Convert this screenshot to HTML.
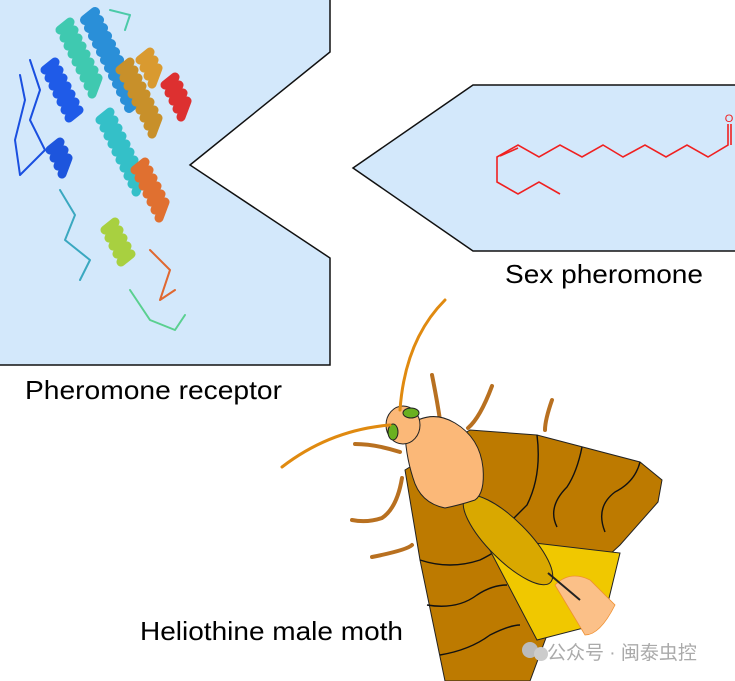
<!DOCTYPE html>
<html><head><style>
html,body{margin:0;padding:0;background:#fff;}
svg{display:block;}
text{font-family:"Liberation Sans",sans-serif;}
</style></head><body>
<svg width="735" height="681" viewBox="0 0 735 681" xmlns="http://www.w3.org/2000/svg">
<!-- left box -->
<polygon points="0,0 330,0 330,52 190,165 330,258 330,365 0,365" fill="#d3e8fb"/>
<polyline points="330,0 330,52 190,165 330,258 330,365 0,365" fill="none" stroke="#111" stroke-width="1.5"/>
<!-- protein -->
<g fill="none" stroke-linecap="round" stroke-linejoin="round">
<path d="M30,60 L40,90 L30,120 L45,150 L20,175 L15,140 L25,100 L20,75" stroke="#1a4fe0" stroke-width="2"/>
<path d="M45,70 l10,-8 l-6,16 l10,-8 l-6,16 l10,-8 l-6,16 l10,-8 l-6,16 l10,-8 l-6,16 l10,-8 l-6,16 l10,-8" stroke="#1f5be8" stroke-width="9"/>
<path d="M50,150 l10,-8 l-6,16 l10,-8 l-6,16 l10,-8 l-6,16" stroke="#1d55dd" stroke-width="9"/>
<path d="M60,30 l10,-8 l-6,16 l10,-8 l-6,16 l10,-8 l-6,16 l10,-8 l-6,16 l10,-8 l-6,16 l10,-8 l-6,16 l10,-8 l-6,16 l10,-8 l-6,16" stroke="#3fc9b0" stroke-width="9"/>
<path d="M85,20 l10,-8 l-6,16 l10,-8 l-6,16 l10,-8 l-6,16 l10,-8 l-6,16 l10,-8 l-6,16 l10,-8 l-6,16 l10,-8 l-6,16 l10,-8 l-6,16 l10,-8 l-6,16 l10,-8 l-6,16 l10,-8 l-6,16 l10,-8" stroke="#2a8fd8" stroke-width="10"/>
<path d="M100,120 l10,-8 l-6,16 l10,-8 l-6,16 l10,-8 l-6,16 l10,-8 l-6,16 l10,-8 l-6,16 l10,-8 l-6,16 l10,-8 l-6,16 l10,-8 l-6,16 l10,-8 l-6,16" stroke="#34c0c8" stroke-width="9"/>
<path d="M105,230 l10,-8 l-6,16 l10,-8 l-6,16 l10,-8 l-6,16 l10,-8 l-6,16 l10,-8" stroke="#a8d040" stroke-width="9"/>
<path d="M120,70 l10,-8 l-6,16 l10,-8 l-6,16 l10,-8 l-6,16 l10,-8 l-6,16 l10,-8 l-6,16 l10,-8 l-6,16 l10,-8 l-6,16 l10,-8 l-6,16" stroke="#c8902a" stroke-width="9"/>
<path d="M140,60 l10,-8 l-6,16 l10,-8 l-6,16 l10,-8 l-6,16" stroke="#d99a30" stroke-width="9"/>
<path d="M135,170 l10,-8 l-6,16 l10,-8 l-6,16 l10,-8 l-6,16 l10,-8 l-6,16 l10,-8 l-6,16 l10,-8 l-6,16" stroke="#e07030" stroke-width="9"/>
<path d="M165,85 l10,-8 l-6,16 l10,-8 l-6,16 l10,-8 l-6,16 l10,-8 l-6,16" stroke="#dd3030" stroke-width="9"/>
<path d="M110,10 L130,15 L125,30" stroke="#4bcaa8" stroke-width="2"/>
<path d="M60,190 L75,215 L65,240 L90,260 L80,280" stroke="#3aa8c0" stroke-width="2"/>
<path d="M130,290 L150,320 L175,330 L185,315" stroke="#5ad090" stroke-width="2"/>
<path d="M150,250 L170,270 L160,300 L175,290" stroke="#e06830" stroke-width="2"/>
</g>
<text x="25" y="399" font-size="26" textLength="257" lengthAdjust="spacingAndGlyphs" fill="#000">Pheromone receptor</text>
<!-- right box -->
<polygon points="353,168 473,85 735,85 735,251 473,251" fill="#d3e8fb"/>
<polyline points="735,85 473,85 353,168 473,251 735,251" fill="none" stroke="#111" stroke-width="1.5"/>
<g fill="none" stroke="#f02020" stroke-width="1.6">
<polyline points="560,194 539,182 518,194 497,182 497,157 518,145 539,157 560,145 582,157 603,145 623,157 645,145 666,157 687,145 708,157 728,145 728,124"/>
<line x1="500" y1="156" x2="518" y2="148"/>
<line x1="731" y1="145" x2="731" y2="124"/>
</g>
<text x="729" y="122" font-size="11" fill="#f02020" text-anchor="middle">O</text>
<text x="505" y="283" font-size="26" textLength="198" lengthAdjust="spacingAndGlyphs" fill="#000">Sex pheromone</text>
<!-- moth -->
<g stroke="#222" stroke-width="1">
<path d="M440,420 q-3,-20 -8,-45 M468,428 q12,-10 24,-42 M400,452 q-25,-8 -45,-8 M402,478 q-5,30 -20,40 q-15,5 -30,2 M412,545 q-5,5 -40,12 M545,430 q0,-10 7,-30" stroke="#b87020" stroke-width="4" fill="none" stroke-linecap="round"/>
<path d="M405,470 L470,430 L537,435 L640,462 L662,480 L658,502 L620,545 L560,600 L530,681 L445,681 L420,560 Z" fill="#bd7a00"/>
<g fill="none" stroke="#111" stroke-width="1.4">
<path d="M537,435 q5,40 -10,70 q-20,20 -30,30"/>
<path d="M582,447 q-5,25 -15,40 q-20,20 -10,40"/>
<path d="M640,462 q-5,20 -25,30 q-20,15 -10,40"/>
<path d="M420,560 q30,10 60,0 q20,-10 30,-20"/>
<path d="M427,605 q30,5 50,-10 q15,-10 30,-10"/>
<path d="M440,655 q30,-5 50,-20 q20,-10 30,-10"/>
</g>
<path d="M483,537 L620,553 L603,623 L537,640 Z" fill="#f0c800"/>
<ellipse cx="508" cy="540" rx="60" ry="20" transform="rotate(45 508 540)" fill="#d9a800"/>
<path d="M555,585 q15,-15 35,-5 l25,25 q-15,30 -30,30 z" fill="#fbc088" stroke="#f09030" stroke-width="0.8"/>
<path d="M548,573 L580,600" stroke="#222" stroke-width="2"/>
<path d="M405,428 q25,-20 50,-5 q25,15 28,45 q2,25 -8,32 q-15,5 -30,8 q-25,-5 -32,-30 q-8,-25 -8,-50 z" fill="#fbb878"/>
<ellipse cx="403" cy="425" rx="17" ry="19" fill="#fbb878"/>
<ellipse cx="411" cy="413" rx="8" ry="5" fill="#6ab020"/>
<ellipse cx="393" cy="432" rx="5" ry="8" fill="#6ab020"/>
<path d="M400,410 q5,-70 45,-110 M390,425 q-60,5 -108,42" fill="none" stroke="#e08a10" stroke-width="3" stroke-linecap="round"/>
</g>
<text x="140" y="640" font-size="26" textLength="263" lengthAdjust="spacingAndGlyphs" fill="#000">Heliothine male moth</text>
<circle cx="530" cy="650" r="8" fill="#bbb"/><circle cx="541" cy="654" r="7" fill="#ccc"/>
<text x="547" y="659" font-size="19" fill="#aaa" font-family="'Liberation Sans','Noto Sans CJK SC',sans-serif">公众号 · 闽泰虫控</text>
</svg>
</body></html>
